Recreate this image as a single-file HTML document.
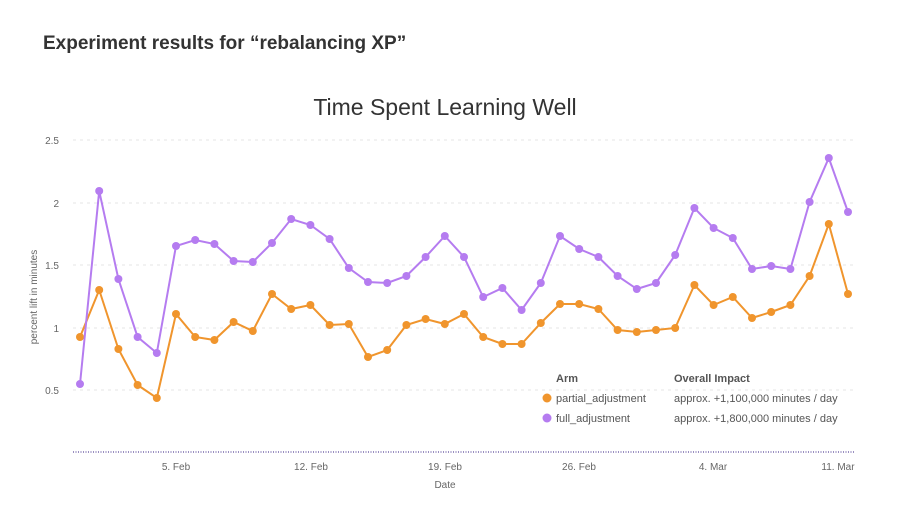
<!DOCTYPE html>
<html><head><meta charset="utf-8"><style>
body{margin:0;background:#fff;width:898px;height:500px;overflow:hidden;font-family:"Liberation Sans",sans-serif}
</style></head><body>
<svg width="898" height="500" xmlns="http://www.w3.org/2000/svg" font-family="Liberation Sans, sans-serif">
<text x="43" y="49" font-size="19" font-weight="bold" fill="#333">Experiment results for “rebalancing XP”</text>
<text x="445" y="115" font-size="23" fill="#333" text-anchor="middle">Time Spent Learning Well</text>
<g stroke="#e6e6e6" stroke-dasharray="3,4" stroke-width="1">
<line x1="73" x2="855" y1="140" y2="140"/><line x1="73" x2="855" y1="203" y2="203"/>
<line x1="73" x2="855" y1="265" y2="265"/><line x1="73" x2="855" y1="328" y2="328"/>
<line x1="73" x2="855" y1="390" y2="390"/></g>
<g font-size="10" fill="#666" text-anchor="end">
<text x="59" y="144">2.5</text><text x="59" y="207">2</text><text x="59" y="269">1.5</text><text x="59" y="332">1</text><text x="59" y="394">0.5</text></g>
<text transform="translate(37,297) rotate(-90)" font-size="10" fill="#666" text-anchor="middle">percent lift in minutes</text>
<line x1="73" x2="855" y1="452" y2="452" stroke="#9a8fc0" stroke-width="2" stroke-dasharray="1,1.5"/>
<g font-size="10" fill="#666" text-anchor="middle">
<text x="176" y="470">5. Feb</text><text x="311" y="470">12. Feb</text><text x="445" y="470">19. Feb</text>
<text x="579" y="470">26. Feb</text><text x="713" y="470">4. Mar</text><text x="838" y="470">11. Mar</text>
<text x="445" y="488">Date</text></g>
<g id="c"></g>
<g font-size="11" fill="#555">
<text x="556" y="382" font-weight="bold">Arm</text><text x="674" y="382" font-weight="bold">Overall Impact</text>
<circle cx="547" cy="398" r="4.5" fill="#f0952d"/><text x="556" y="402">partial_adjustment</text>
<text x="674" y="402">approx. +1,100,000 minutes / day</text>
<circle cx="547" cy="418" r="4.5" fill="#b57cf0"/><text x="556" y="422">full_adjustment</text>
<text x="674" y="422">approx. +1,800,000 minutes / day</text></g>
</svg>
<script>
var P=[384,191,279,337,353,246,240,244,261,262,243,219,225,239,268,282,283,276,257,236,257,297,288,310,283,236,249,257,276,289,283,255,208,228,238,269,266,269,202,158,212];
var O=[337,290,349,385,398,314,337,340,322,331,294,309,305,325,324,357,350,325,319,324,314,337,344,344,323,304,304,309,330,332,330,328,285,305,297,318,312,305,276,224,294];
var g=document.getElementById('c'),ns='http://www.w3.org/2000/svg',h='';
function s(a,col){var pts=a.map(function(y,i){return (80+i*19.2).toFixed(1)+','+y}).join(' ');
h+='<polyline points="'+pts+'" fill="none" stroke="'+col+'" stroke-width="2"/>';
a.forEach(function(y,i){h+='<circle cx="'+(80+i*19.2).toFixed(1)+'" cy="'+y+'" r="4" fill="'+col+'"/>';});}
s(O,'#f0952d');s(P,'#b57cf0');g.innerHTML=h;
</script>
</body></html>
